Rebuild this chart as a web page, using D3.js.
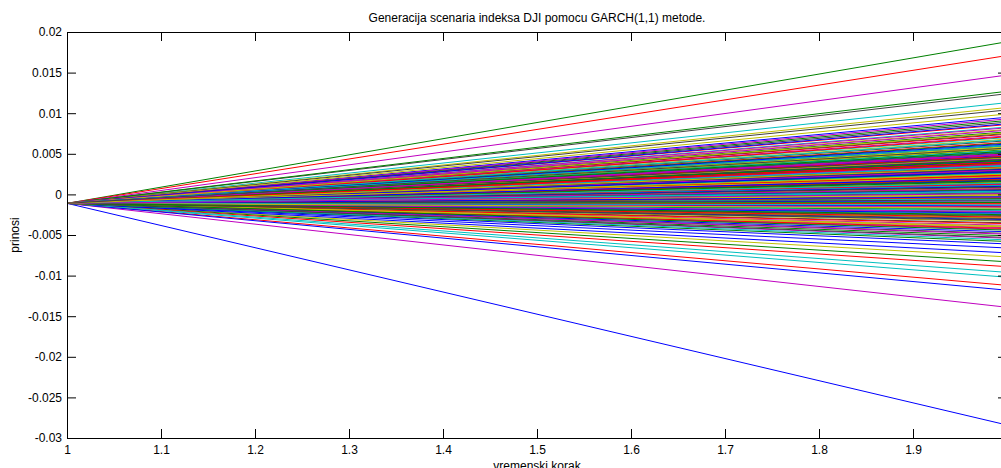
<!DOCTYPE html>
<html>
<head>
<meta charset="utf-8">
<script src="https://cdn.jsdelivr.net/npm/d3@7"></script>
<style>
  html, body { margin: 0; padding: 0; background: #fff; }
  svg { display: block; }
  text { font-family: "Liberation Sans", Arial, sans-serif; fill: #000; }
</style>
</head>
<body>
<svg id="chart" width="1001" height="468"></svg>
<script>
// ---- data ----
const titleText = "Generacija scenaria indeksa DJI pomocu GARCH(1,1) metode.";
const xLabelText = "vremenski korak";
const yLabelText = "prinosi";
const timeSteps = [1, 2];
const startValue = -0.0011;
const endValues = [
  -0.0284, 0.0188, 0.0171, 0.0113, 0.0147, 0.0107, 0.0124,
  0.0095, 0.0127, -0.0112, -0.0102, -0.0139, -0.0077, 0.0104,
  -0.0118, -0.0083, -0.0089, -0.0096, -0.0054, 0.0099, -0.0048,
  -0.0072, 0.0091, 0.0086, 0.0083, 0.0093, 0.0080, 0.0089,
  -0.0066, 0.0077, 0.0074, 0.0070, 0.0079, 0.0068, 0.0075,
  -0.0061, -0.0058, 0.0064, 0.0061, 0.0072, 0.0058, 0.0066,
  0.0052, 0.0031, -0.0012, 0.0044, 0.0019, 0.0057, -0.0035,
  0.0008, -0.0027, 0.0036, 0.0015, -0.0041, 0.0023, 0.0049,
  0.0026, 0.0055, 0.0003, -0.0018, 0.0040, -0.0009, 0.0012,
  -0.0031, 0.0017, 0.0047, 0.0029, 0.0006, 0.0038, -0.0022,
  0.0043, -0.0005, 0.0021, 0.0053, -0.0038, 0.0010, 0.0033,
  0.0014, 0.0039, -0.0015, 0.0001, 0.0027, -0.0029, 0.0046,
  0.0035, 0.0011, 0.0050, -0.0024, 0.0018, 0.0042, -0.0002,
  -0.0008, 0.0045, 0.0024, 0.0032, -0.0043, 0.0056, 0.0020,
  0.0048, -0.0019, 0.0007, 0.0041, 0.0013, -0.0033, 0.0028,
  0.0022, 0.0034, -0.0011, 0.0054, 0.0004, 0.0016, -0.0026,
  0.0037, 0.0009, 0.0030, -0.0006, 0.0044, 0.0025, 0.0002,
  -0.0014, 0.0051, -0.0036, 0.0019, 0.0033, -0.0001, 0.0040,
  0.0005, 0.0027, 0.0047, -0.0020, 0.0012, 0.0059, -0.0030,
  0.0031, -0.0010, 0.0023, 0.0036, -0.0016, 0.0008, 0.0043,
  -0.0046, -0.0051, -0.0042, -0.0056, -0.0049, -0.0040, -0.0053,
  0.0017, 0.0039, -0.0004, 0.0026, 0.0050, -0.0039, 0.0014,
  -0.0023, 0.0006, 0.0034, 0.0011, 0.0021, 0.0045, 0.0029,
  0.0087, 0.0063, 0.0071, 0.0067, 0.0082, 0.0076, 0.0060,
  0.0041, 0.0018, -0.0028, 0.0003, 0.0037, 0.0015, -0.0007,
  0.0010, 0.0053, 0.0024, -0.0013, 0.0030, 0.0000, 0.0046,
  0.0062, -0.0044, 0.0013, 0.0035, -0.0021, 0.0022, 0.0009,
  0.0028, 0.0016, 0.0040, 0.0060, 0.0007, -0.0017, 0.0032,
  -0.0003, 0.0042, 0.0019, 0.0004, 0.0049, 0.0025, -0.0032,
  0.0020, -0.0025, 0.0038, 0.0014, 0.0001, 0.0033, 0.0057
];
const xTicks = [1, 1.1, 1.2, 1.3, 1.4, 1.5, 1.6, 1.7, 1.8, 1.9, 2];
const xTickLabels = ["1", "1.1", "1.2", "1.3", "1.4", "1.5", "1.6", "1.7", "1.8", "1.9", ""];
const yTicks = [-0.03, -0.025, -0.02, -0.015, -0.01, -0.005, 0, 0.005, 0.01, 0.015, 0.02];
const colorOrder = ["#0000ff", "#008000", "#ff0000", "#00bfbf", "#bf00bf", "#bfbf00", "#404040"];

// ---- layout ----
const svg = d3.select("#chart");
const mLeft = 67, mRight = 1007, mTop = 32, mBottom = 438;
const x = d3.scaleLinear().domain([1, 2]).range([mLeft, mRight]);
const y = d3.scaleLinear().domain([-0.03, 0.02]).range([mBottom, mTop]);
const tickLen = 9;

svg.append("rect").attr("width", 1001).attr("height", 468).attr("fill", "#fff");

svg.append("defs").append("clipPath").attr("id", "clip")
  .append("rect").attr("x", mLeft).attr("y", mTop).attr("width", mRight - mLeft).attr("height", mBottom - mTop);

// lines
const line = d3.line().x(d => x(d[0])).y(d => y(d[1]));
svg.append("g").attr("clip-path", "url(#clip)")
  .selectAll("path").data(endValues).join("path")
  .attr("d", v => line([[timeSteps[0], startValue], [timeSteps[1], v]]))
  .attr("fill", "none")
  .attr("stroke", (v, i) => colorOrder[i % colorOrder.length])
  .attr("stroke-width", 1);

// axes
const fmt = d => String(+d.toFixed(4));
const axisStyle = g => {
  g.select(".domain").attr("stroke", "#000");
  g.selectAll(".tick line").attr("stroke", "#000");
  g.selectAll(".tick text").attr("font-size", 12).attr("fill", "#222");
};
svg.append("g").attr("transform", `translate(0,${mBottom})`)
  .call(d3.axisBottom(x).tickValues(xTicks).tickFormat((d, i) => xTickLabels[i]).tickSizeInner(-tickLen).tickSizeOuter(0).tickPadding(5))
  .call(axisStyle)
  .call(g => g.selectAll(".tick text").attr("dy", "0.9em"));
svg.append("g").attr("transform", `translate(0,${mTop})`)
  .call(d3.axisTop(x).tickValues(xTicks).tickFormat("").tickSizeInner(-tickLen).tickSizeOuter(0))
  .call(axisStyle);
svg.append("g").attr("transform", `translate(${mLeft},0)`)
  .call(d3.axisLeft(y).tickValues(yTicks).tickFormat(fmt).tickSizeInner(-tickLen).tickSizeOuter(0).tickPadding(5))
  .call(axisStyle);
svg.append("g").attr("transform", `translate(${mRight},0)`)
  .call(d3.axisRight(y).tickValues(yTicks).tickFormat("").tickSizeInner(-tickLen).tickSizeOuter(0))
  .call(axisStyle);

// titles
svg.append("text").attr("x", (mLeft + mRight) / 2).attr("y", 22)
  .attr("text-anchor", "middle").attr("font-size", 12).attr("fill", "#222").text(titleText);
svg.append("text").attr("x", (mLeft + mRight) / 2).attr("y", 470)
  .attr("text-anchor", "middle").attr("font-size", 12).attr("fill", "#222").text(xLabelText);
svg.append("text").attr("transform", `translate(19,${(mTop + mBottom) / 2}) rotate(-90)`)
  .attr("text-anchor", "middle").attr("font-size", 12).attr("fill", "#222").text(yLabelText);
</script>
</body>
</html>
